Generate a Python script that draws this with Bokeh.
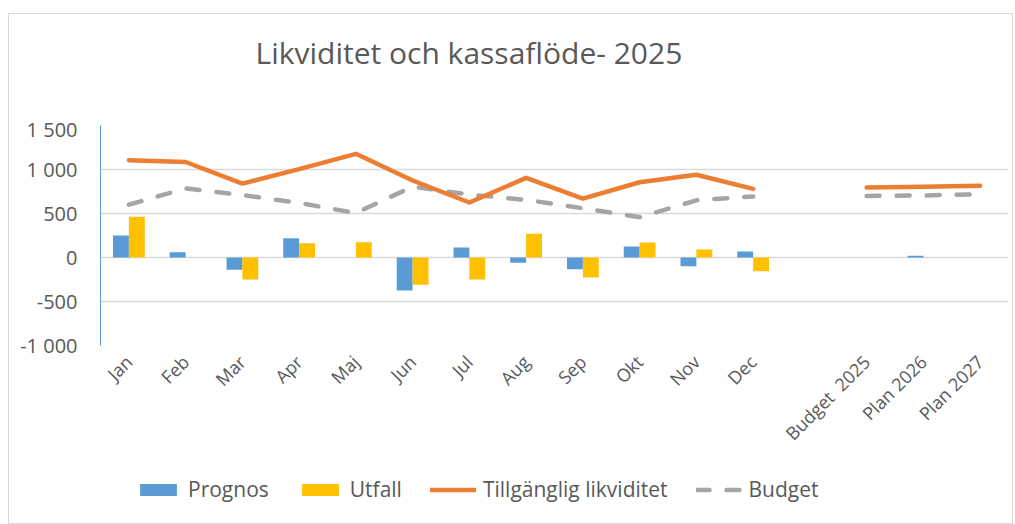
import math
from bokeh.plotting import figure
from bokeh.layouts import column
from bokeh.models import (ColumnDataSource, FactorRange, Range1d, FixedTicker,
                          Legend, LegendItem, Label)
from bokeh.transform import dodge
from bokeh.embed import file_html
from bokeh.resources import INLINE

nan = float("nan")

# ---- data ----
categories = ["Jan", "Feb", "Mar", "Apr", "Maj", "Jun", "Jul", "Aug", "Sep",
              "Okt", "Nov", "Dec", " ", "Budget \u00a02025", "Plan 2026", "Plan 2027"]
prognos = [250, 60, -140, 220, nan, -375, 115, -60, -133, 125, -100, 68,
           nan, nan, 20, nan]
utfall = [462, nan, -250, 163, 174, -310, -250, 269, -227, 170, 91, -155,
          nan, nan, nan, nan]
likviditet = [1105, 1085, 840, 1005, 1178, 875, 625, 905, 670, 855, 940, 780,
              nan, 795, 805, 815]
budget = [600, 785, 710, 620, 505, 805, 715, 655, 560, 458, 650, 693,
          nan, 700, 705, 720]
y_ticks = [-1000, -500, 0, 500, 1000, 1500]
y_tick_labels = ["-1 000", "-500", "0", "500", "1 000", "1 500"]
series_names = ["Prognos", "Utfall", "Tillgänglig likviditet", "Budget"]

title_text = "Likviditet och kassaflöde- 2025"

BLUE = "#5B9BD5"
GOLD = "#FFC000"
ORANGE = "#ED7D31"
GREY = "#A5A5A5"
TXT = "#595959"
FONT = "Open Sans"

W = 1003


def strip(height):
    f = figure(width=W, height=height, output_backend="svg", toolbar_location=None,
               x_range=Range1d(0, 908), y_range=Range1d(0, height),
               x_axis_location=None, y_axis_location=None,
               min_border_left=0, min_border_right=0, min_border_top=0,
               min_border_bottom=0)
    f.outline_line_color = None
    f.grid.grid_line_color = None
    return f


# ---- title strip ----
ts = strip(101)
ts.add_layout(Label(x=155, y=63, text=title_text, text_font=FONT,
                    text_font_size="30px", text_color=TXT,
                    text_baseline="alphabetic"))

# ---- main chart ----
src = ColumnDataSource(dict(cat=categories, prognos=prognos, utfall=utfall,
                            likviditet=likviditet, budget=budget))

p = figure(width=W, height=354, output_backend="svg", toolbar_location=None,
           x_range=FactorRange(*categories, range_padding=0),
           y_range=Range1d(-1000, 1500),
           min_border_left=91, min_border_right=4, min_border_top=10,
           min_border_bottom=124)
p.outline_line_color = None
p.background_fill_color = "white"
p.border_fill_color = "white"

bar_style = [dict(fill_color=BLUE, line_color=None), dict(fill_color=GOLD, line_color=None)]
r_prog = p.vbar(x=dodge("cat", -0.14, range=p.x_range), top="prognos", width=0.28,
                source=src, **bar_style[0])
r_utf = p.vbar(x=dodge("cat", 0.14, range=p.x_range), top="utfall", width=0.28,
               source=src, **bar_style[1])
bud_style = dict(line_color=GREY, line_width=4.5, line_dash="13 17", line_cap="round")
liq_style = dict(line_color=ORANGE, line_width=4.5, line_cap="round", line_join="round")
r_bud = p.line(x="cat", y="budget", source=src, **bud_style)
r_liq = p.line(x="cat", y="likviditet", source=src, **liq_style)

p.yaxis.ticker = FixedTicker(ticks=y_ticks)
p.yaxis.major_label_overrides = {t: l for t, l in zip(y_ticks, y_tick_labels)}
p.yaxis.axis_line_color = BLUE
p.yaxis.axis_line_width = 1
p.yaxis.major_tick_line_color = None
p.yaxis.minor_tick_line_color = None
p.yaxis.major_label_standoff = 17
p.yaxis.major_label_text_font = FONT
p.yaxis.major_label_text_font_size = "20px"
p.yaxis.major_label_text_color = TXT

p.xaxis.axis_line_color = None
p.xaxis.major_tick_line_color = None
p.xaxis.major_tick_out = 0
p.xaxis.major_label_orientation = math.pi / 4
p.xaxis.major_label_standoff = 13
p.xaxis.major_label_text_font = FONT
p.xaxis.major_label_text_font_size = "18px"
p.xaxis.major_label_text_color = TXT

p.xgrid.grid_line_color = None
p.ygrid.ticker = FixedTicker(ticks=y_ticks)
p.ygrid.grid_line_color = "#D9D9D9"
p.ygrid.grid_line_width = 1.5

# ---- legend strip ----
lg = strip(54)
blank = ColumnDataSource(dict(x=[nan], y=[nan]))
g1 = lg.vbar(x="x", top="y", width=1, source=blank, **bar_style[0])
g2 = lg.vbar(x="x", top="y", width=1, source=blank, **bar_style[1])
g3 = lg.line(x="x", y="y", source=blank, **liq_style)
g4 = lg.line(x="x", y="y", source=blank, **bud_style)
legend = Legend(items=[LegendItem(label=n, renderers=[g])
                       for n, g in zip(series_names, [g1, g2, g3, g4])],
                orientation="horizontal", location=(35, 20),
                glyph_width=46, glyph_height=15, label_standoff=7, spacing=28,
                padding=0, margin=0, border_line_color=None,
                background_fill_alpha=0,
                label_text_font=FONT, label_text_font_size="21px",
                label_text_color=TXT)
lg.add_layout(legend)

layout = column(ts, p, lg, spacing=0)
layout.margin = (13, 0, 0, 8)
layout.styles = {"border": "1px solid #D9D9D9"}

open("out.html", "w").write(file_html(layout, INLINE))
